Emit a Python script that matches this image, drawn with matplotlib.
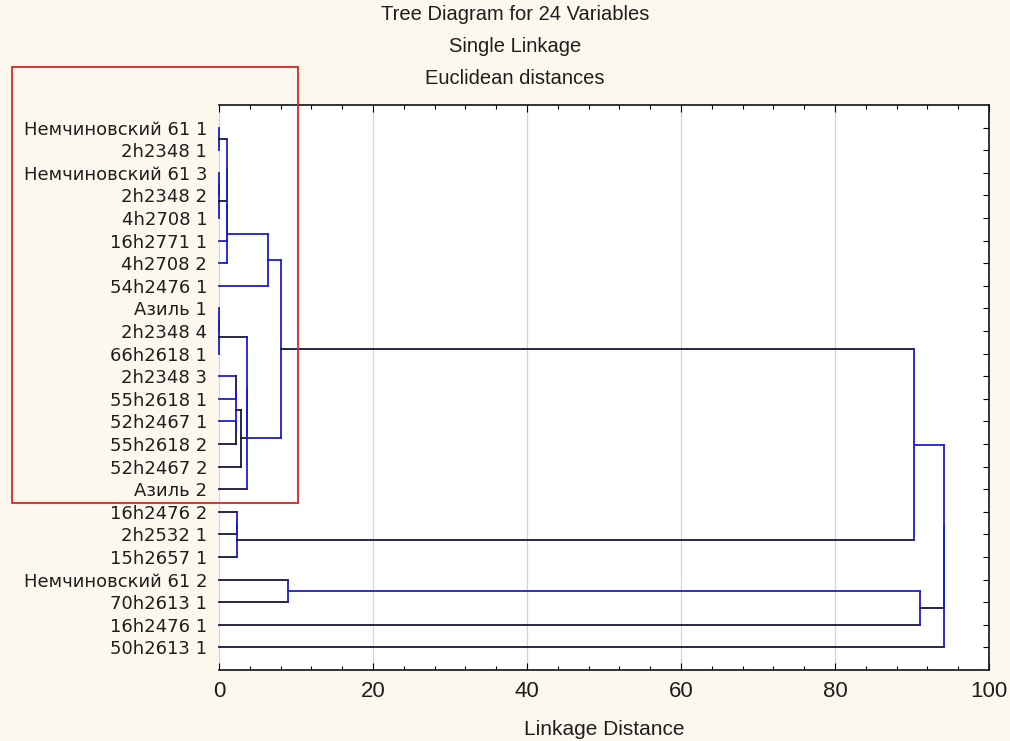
import matplotlib
matplotlib.use("Agg")
import matplotlib.pyplot as plt
from matplotlib.patches import Rectangle
from matplotlib.ticker import MultipleLocator

# leaf labels, top to bottom
labels = ["Немчиновский 61 1", "2h2348 1", "Немчиновский 61 3", "2h2348 2",
          "4h2708 1", "16h2771 1", "4h2708 2", "54h2476 1", "Азиль 1",
          "2h2348 4", "66h2618 1", "2h2348 3", "55h2618 1", "52h2467 1",
          "55h2618 2", "52h2467 2", "Азиль 2", "16h2476 2", "2h2532 1",
          "15h2657 1", "Немчиновский 61 2", "70h2613 1", "16h2476 1",
          "50h2613 1"]

# merges: (child a, child b, linkage distance); new nodes get ids 24, 25, ...
merge_a = [0, 2, 25, 24, 27, 28, 29, 8, 31, 11, 13, 33, 35, 32, 37, 30, 17, 40, 39, 20, 43, 42, 45]
merge_b = [1, 3, 4, 26, 5, 6, 7, 9, 10, 12, 14, 34, 15, 36, 16, 38, 18, 19, 41, 21, 22, 44, 23]
merge_d = [0.0, 0.0, 0.0, 1.0, 1.0, 1.0, 6.4, 0.0, 0.0, 2.15, 2.15, 2.15, 2.85,
           3.6, 3.6, 8.05, 2.3, 2.3, 90.3, 9.0, 91.1, 94.1, 94.1]

BLUE = "#1c1cd2"
DARK = "#16163a"
# nodes whose horizontal branch is drawn blue, and verticals drawn dark
blue_h = {5, 6, 7, 11, 12, 13, 29, 30, 38, 42, 43}
dark_v = {33, 34, 36}

fig = plt.figure(figsize=(10.1, 7.41), dpi=100, facecolor="#fcf8ee")
ax = fig.add_axes([219/1010, 1-670/741, 770/1010, 565/741])
ax.set_facecolor("white")

n = len(labels)
ypos = {i: i + 1 for i in range(n)}
dist = {i: 0.0 for i in range(n)}
for k, (a, b, d) in enumerate(zip(merge_a, merge_b, merge_d)):
    node = n + k
    for c in (a, b):
        if d > dist[c]:
            ax.plot([dist[c], d], [ypos[c], ypos[c]],
                    color=BLUE if c in blue_h else DARK, lw=1.3, zorder=3,
                    clip_on=False)
    ax.plot([d, d], [ypos[a], ypos[b]],
            color=DARK if node in dark_v else BLUE, lw=1.3, zorder=3,
            clip_on=False)
    ypos[node] = (ypos[a] + ypos[b]) / 2
    dist[node] = d

ax.set_xlim(0, 100)
ax.set_ylim(n + 1, 0)
ax.xaxis.set_major_locator(MultipleLocator(20))
ax.xaxis.set_minor_locator(MultipleLocator(4))
ax.grid(axis="x", color="#d4d4d4", lw=0.9, zorder=0)

ax.set_yticks(range(1, n + 1))
ax.set_yticklabels(labels, fontsize=13, color="#1e1e1e")
ax.tick_params(axis="y", which="both", left=False, right=True, direction="in",
               length=4, pad=8.5, width=0.8)
ax.tick_params(axis="x", which="major", top=True, direction="in", length=5,
               width=0.8, pad=8, labelsize=16, labelcolor="#1e1e1e")
ax.tick_params(axis="x", which="minor", top=True, direction="in", length=3,
               width=0.8)
for t in ax.get_xticklabels():
    t.set_family("Liberation Sans")

ax.spines["left"].set_visible(False)
for s in ("top", "right", "bottom"):
    ax.spines[s].set_color("#111111")
    ax.spines[s].set_linewidth(1.2)

ax.set_xlabel("Linkage Distance", fontsize=15, color="#1e1e1e", labelpad=13,
              family="Liberation Sans")

for txt, yy in [("Tree Diagram for 24 Variables", 15),
                ("Single Linkage", 47), ("Euclidean distances", 79)]:
    fig.text(515/1010, 1 - yy/741, txt, ha="center", va="center",
             fontsize=14.5, family="Liberation Sans", color="#1e1e1e")

fig.patches.append(Rectangle((12/1010, 1-503/741), 286/1010, 436/741,
                             transform=fig.transFigure, fill=False,
                             edgecolor="#d92626", lw=1.3))

fig.savefig("out.png", dpi=100, facecolor=fig.get_facecolor())
